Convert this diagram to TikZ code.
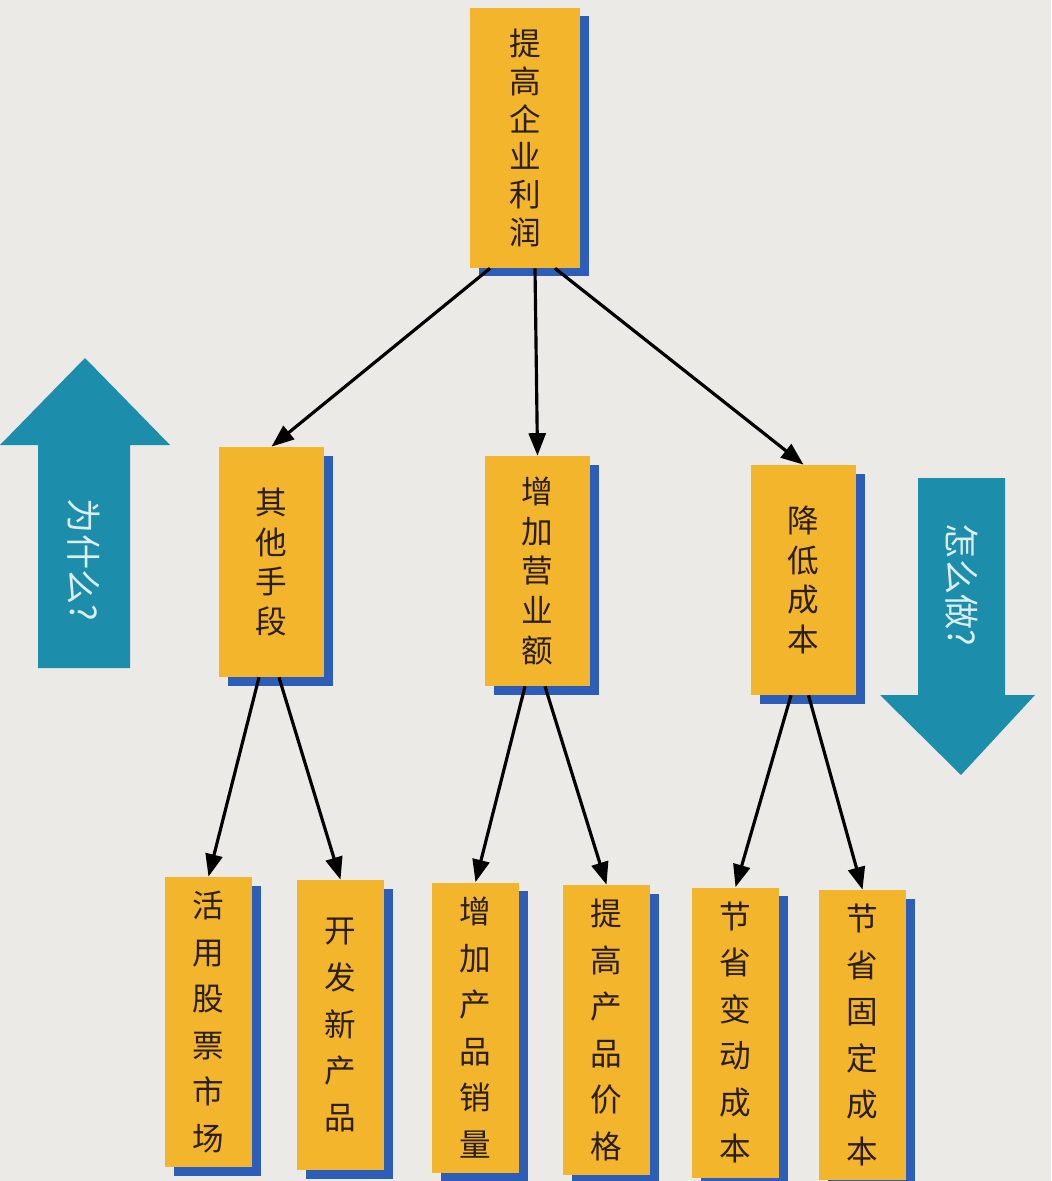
\documentclass[tikz,border=0pt]{standalone}
\usepackage{fontspec}
\newfontfamily\cjk{Noto Sans CJK SC}
\usetikzlibrary{shapes,arrows.meta,calc,positioning,shadows}
\definecolor{boxyellow}{HTML}{F2B52C}
\definecolor{boxshadow}{HTML}{2C5DB8}
\definecolor{arrowteal}{HTML}{1C8DAA}
\definecolor{paper}{HTML}{ECEAE6}
\definecolor{ink}{HTML}{2B1E14}
\tikzstyle{block} =[rectangle, fill=boxyellow, text=ink, align=center, inner sep=0pt,
drop shadow={shadow xshift=0.17cm, shadow yshift=-0.17cm, fill=boxshadow, opacity=1},
font=\cjk\fontsize{18}{21.5}\selectfont, minimum width=2.2cm, minimum height=5.2cm]
\tikzstyle{midblock} =[block, font=\cjk\fontsize{18}{22.5}\selectfont, minimum width=2.1cm, minimum height=4.6cm]
\tikzstyle{leafblock} =[block, font=\cjk\fontsize{18}{26.5}\selectfont, minimum width=1.74cm, minimum height=5.8cm]
\tikzstyle{line} =[draw, line width=1.8pt, -{Triangle[length=4.5mm,width=3.4mm]}]
\tikzstyle{bigarrow} =[fill=arrowteal]
\tikzstyle{arrowtext} =[text=white!85!arrowteal, font=\cjk\fontsize{20}{20}\selectfont, rotate=-90]

\begin{document}
\begin{tikzpicture}

\fill [paper] (0,0) rectangle (21.02,-23.62);
\useasboundingbox (0,0) rectangle (21.02,-23.62);

% why / how arrows
\fill [bigarrow] (1.7,-7.16) -- (3.4,-8.9) -- (2.6,-8.9) -- (2.6,-13.36) -- (0.76,-13.36) -- (0.76,-8.9) -- (0,-8.9) -- cycle;
\node [arrowtext] (why) at (1.68,-11.2) {为什么?};
\fill [bigarrow] (18.36,-9.56) -- (20.1,-9.56) -- (20.1,-13.9) -- (20.7,-13.9) -- (19.22,-15.5) -- (17.6,-13.9) -- (18.36,-13.9) -- cycle;
\node [arrowtext] (how) at (19.23,-11.7) {怎么做?};

% goal
\node [block] (profit) at (10.5,-2.76) {提\\高\\企\\业\\利\\润};

% means
\node [midblock] (other) at (5.43,-11.24) {其\\他\\手\\段};
\node [midblock] (sales) at (10.75,-11.42) {增\\加\\营\\业\\额};
\node [midblock] (cost) at (16.07,-11.6) {降\\低\\成\\本};

% actions
\node [leafblock] (stock) at (4.17,-20.44) {活\\用\\股\\票\\市\\场};
\node [leafblock] (newprod) at (6.81,-20.5) {开\\发\\新\\产\\品};
\node [leafblock] (volume) at (9.51,-20.55) {增\\加\\产\\品\\销\\量};
\node [leafblock] (price) at (12.13,-20.6) {提\\高\\产\\品\\价\\格};
\node [leafblock] (varcost) at (14.71,-20.65) {节\\省\\变\\动\\成\\本};
\node [leafblock] (fixcost) at (17.25,-20.7) {节\\省\\固\\定\\成\\本};

\path [line] ([xshift=-0.7cm]profit.south) -- (other.north);
\path [line] ([xshift=0.2cm]profit.south) -- (sales.north);
\path [line] ([xshift=0.6cm]profit.south) -- (cost.north);
\path [line] ([xshift=-0.25cm]other.south) -- (stock.north);
\path [line] ([xshift=0.15cm]other.south) -- (newprod.north);
\path [line] ([xshift=-0.25cm]sales.south) -- (volume.north);
\path [line] ([xshift=0.15cm]sales.south) -- (price.north);
\path [line] ([xshift=-0.25cm]cost.south) -- (varcost.north);
\path [line] ([xshift=0.1cm]cost.south) -- (fixcost.north);
\end{tikzpicture}
\end{document}
